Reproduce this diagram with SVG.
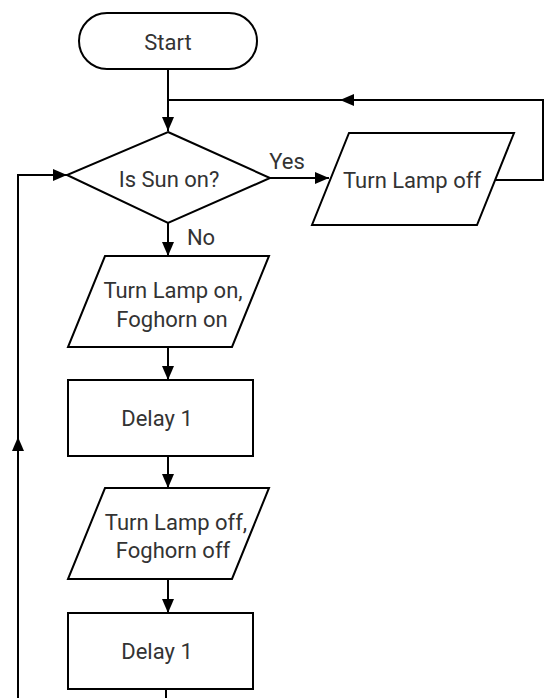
<svg xmlns="http://www.w3.org/2000/svg" width="547" height="698" viewBox="0 0 547 698">
  <style>
    .shape { fill: #ffffff; stroke: #000000; stroke-width: 2; }
    .edge { fill: none; stroke: #000000; stroke-width: 2; }
    .label { font-family: Roboto, "Liberation Sans", sans-serif; font-size: 22px; fill: #333333; text-anchor: middle; dominant-baseline: central; }
  </style>
  <defs>
    <marker id="arrow" viewBox="0 0 14 12" refX="14" refY="6" markerWidth="14" markerHeight="12" markerUnits="userSpaceOnUse" orient="auto">
      <path d="M0,0 L14,6 L0,12 Z" fill="#000000"/>
    </marker>
  </defs>

  <g id="connectors">
    <!-- Start to decision -->
    <path class="edge" d="M168,70 V131" marker-end="url(#arrow)"/>
    <!-- Yes branch -->
    <path class="edge" d="M270,178 H329" marker-end="url(#arrow)"/>
    <!-- Turn Lamp off back to top -->
    <path class="edge" d="M493,180 H543 V100 H340" marker-end="url(#arrow)"/>
    <path class="edge" d="M345,100 H168"/>
    <!-- No branch -->
    <path class="edge" d="M168,223 V256" marker-end="url(#arrow)"/>
    <path class="edge" d="M168,347 V380" marker-end="url(#arrow)"/>
    <path class="edge" d="M168,456 V488" marker-end="url(#arrow)"/>
    <path class="edge" d="M168,579 V613" marker-end="url(#arrow)"/>
    <!-- Loop back to decision -->
    <path class="edge" d="M166,689 V698"/>
    <path class="edge" d="M18,698 V437" marker-end="url(#arrow)"/>
    <path class="edge" d="M18,445 V175 H67" marker-end="url(#arrow)"/>
  </g>

  <g id="start">
    <rect class="shape" x="79" y="13" width="178" height="56" rx="28" ry="28"/>
    <text class="label" x="168" y="42">Start</text>
  </g>

  <g id="decision">
    <polygon class="shape" points="168,132 270,178 168,223 67,175"/>
    <text class="label" x="169" y="179">Is Sun on?</text>
  </g>
  <text class="label" x="287" y="161">Yes</text>
  <text class="label" x="201" y="237">No</text>

  <g id="lamp-off">
    <polygon class="shape" points="349,133 514,133 477,225 312,225"/>
    <text class="label" x="412" y="180">Turn Lamp off</text>
  </g>

  <g id="lamp-on-foghorn-on">
    <polygon class="shape" points="105,256 269,256 232,347 68,347"/>
    <text class="label" x="173" y="290">Turn Lamp on,</text>
    <text class="label" x="172" y="319">Foghorn on</text>
  </g>

  <g id="delay-1">
    <rect class="shape" x="68" y="380" width="185" height="76"/>
    <text class="label" x="157" y="418">Delay 1</text>
  </g>

  <g id="lamp-off-foghorn-off">
    <polygon class="shape" points="105,488 269,488 232,579 68,579"/>
    <text class="label" x="176" y="522">Turn Lamp off,</text>
    <text class="label" x="173" y="550">Foghorn off</text>
  </g>

  <g id="delay-2">
    <rect class="shape" x="68" y="613" width="185" height="76"/>
    <text class="label" x="157" y="651">Delay 1</text>
  </g>
</svg>
